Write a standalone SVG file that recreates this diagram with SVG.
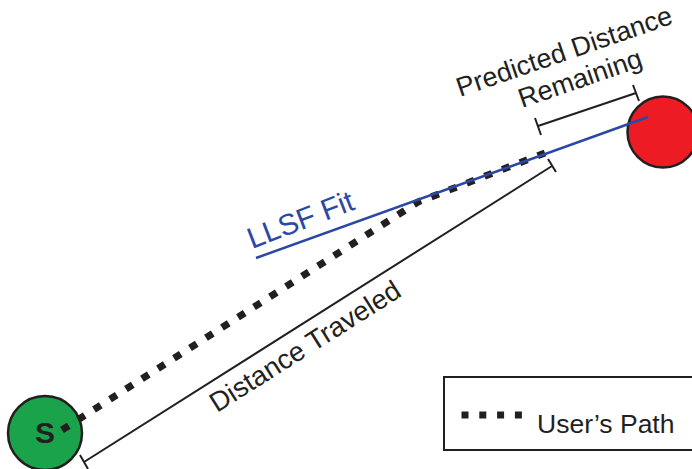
<svg xmlns="http://www.w3.org/2000/svg" width="692" height="469" viewBox="0 0 692 469">
<style>
text{font-family:"Liberation Sans",Arial,sans-serif;fill:#231f20}
.blk{stroke:#231f20;stroke-width:2;fill:none}
.dots{stroke:#231f20;stroke-width:7;fill:none;stroke-dasharray:8 11}
</style>
<rect width="692" height="469" fill="#fff"/>
<g id="start">
<circle cx="45" cy="433" r="37" fill="#1aa34a" stroke="#231f20" stroke-width="2.5"/>
<text x="45" y="443" font-size="30" font-weight="bold" text-anchor="middle">S</text>
</g>
<g id="goal">
<circle cx="663" cy="132" r="35.5" fill="#ed1c24" stroke="#231f20" stroke-width="2.5"/>
</g>
<g id="connectors">
<path class="dots" d="M62,430 L418,202 L545,153" stroke-linejoin="round"/>
<line x1="256" y1="258" x2="648" y2="117" stroke="#2a48a4" stroke-width="2.5"/>
<path class="blk" d="M84,462 L552,166 M80,455 L88,469 M548,159 L556,172"/>
<path class="blk" d="M538,126 L636,93 M535,118 L541,135 M633,85 L639,101"/>
</g>
<g id="labels">
<text font-size="29.5" style="fill:#2a48a4" transform="translate(252,249) rotate(-21)">LLSF Fit</text>
<text font-size="27.5" transform="translate(217,413) rotate(-32.3)">Distance Traveled</text>
<text font-size="27" transform="translate(460,97) rotate(-19)">Predicted Distance</text>
<text font-size="27" transform="translate(522,108) rotate(-19)">Remaining</text>
</g>
<g id="legend">
<rect x="444" y="377" width="260" height="73" fill="#fff" stroke="#231f20" stroke-width="2"/>
<line x1="461.5" y1="415" x2="523" y2="415" stroke="#231f20" stroke-width="7" stroke-dasharray="7 10.8"/>
<text x="537" y="433" font-size="26.5">User’s Path</text>
</g>
</svg>
